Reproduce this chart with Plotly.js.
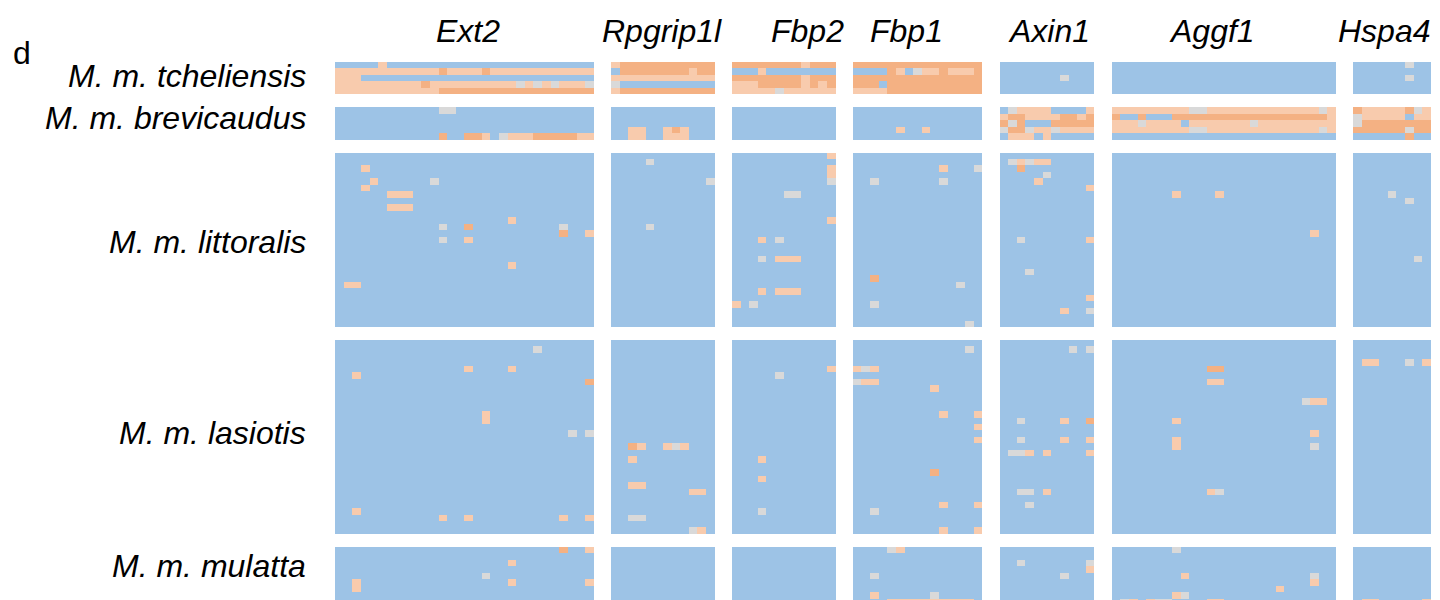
<!DOCTYPE html>
<html>
<head>
<meta charset="utf-8">
<script src="https://cdn.plot.ly/plotly-3.0.1.min.js"></script>
<style>html,body{margin:0;padding:0;background:#fff;}#chart{width:1440px;height:600px;}</style>
</head>
<body>
<div id="chart"></div>
<script>
// ---------- DATA ----------
// Genotype codes per site: 0 = reference (blue), 1 = heterozygous (light orange),
// 2 = homozygous alternative (orange), 3 = missing (grey).
// Each row = one individual; space-separated chunks = genes in order below.
// "-" = a gene block where every site of that individual is 0.
const genes = ['Ext2', 'Rpgrip1l', 'Fbp2', 'Fbp1', 'Axin1', 'Aggf1', 'Hspa4'];
const geneSites = [30, 12, 12, 15, 11, 26, 9];
const subspecies = ['M. m. tcheliensis', 'M. m. brevicaudus', 'M. m. littoralis', 'M. m. lasiotis', 'M. m. mulatta'];

const tcheliensis = [
  "000001000000000000000000000000 122222222222 222222221222 222222222222222 - - 000000300",
  "111111111111211112111111111111 022222222122 000100000000 000021031121112 - - -",
  "111000000000000000000000000000 111111111111 222222221222 222222222222222 00000003000 - 000000300",
  "111111111121111111111313131113 300000000000 111222221212 222022222222222 - - -",
  "111111111111222222222222222222 122222222222 111113111111 111122222222222 - - -"
];
const brevicaudus = [
  "000000000000330000000000000000 - - - 03111100001 11111111133111111111111131 211111231",
  "- - - - 12211112212 20020002222222222222222221 311111011",
  "- - - - 23200022222 11131111011111113111111111 322222222",
  "- 001100121000 - 000001001000000 32231131111 11111111133111111111111131 222222322",
  "000000000000200221031112222211 001100111000 - - 01110100000 - 000000200"
];
const littoralis = [
  "- - 000000000001 - - - -",
  "- 000030000000 - - 03131100000 - -",
  "000100000000000000000000000000 - 000000000001 000000000010003 00200000000 - -",
  "- - 000000000001 - 00000300000 - -",
  "000010000003000000000000000000 000000000003 000000000003 003000000030000 00001000000 - -",
  "000100000000000000000000000000 - - - 00000000001 - -",
  "000000111000000000000000000000 - 000000330000 - - 00000001000010000000000000 000030000",
  "- - - - - - 000000300",
  "000000111000000000000000000000 - - - - - -",
  "- - - - - - -",
  "000000000000000000001000000000 - 000000000001 - - - -",
  "000000000000300200000000003000 000030000000 - - - - -",
  "000000000000000000000000002001 - - - - 00000000000000000000000100 -",
  "000000000000300100000000000000 - 000103000000 - 00300000001 - -",
  "- - - - - - -",
  "- - - - - - -",
  "- - 000301110000 - - - 000000030",
  "000000000000000000001000000000 - - - - - -",
  "- - - - 00030000000 - -",
  "- - - 002000000000000 - - -",
  "011000000000000000000000000000 - - 000000000000300 - - -",
  "- - 000101110000 - - - -",
  "- - - - 00000000001 - -",
  "- - 103000000000 003000000000000 - - -",
  "- - - - 00000001003 - -",
  "- - - - - - -",
  "- - - 000000000000030 - - -"
];
const lasiotis = [
  "- - - - - - -",
  "000000000000000000000003000000 - - 000000000000030 00000000303 - -",
  "- - - - - - -",
  "- - - - - - 011000301",
  "000000000000000100001000000000 - 000000000001 131000000000000 - 00000000000220000000000000 -",
  "001000000000000000000000000000 - 000003000000 - - - -",
  "000000000000000000000000000002 - - 311000000000000 - 00000000000110000000000000 -",
  "- - - 000000000100000 - - -",
  "- - - - - - -",
  "- - - - - 00000000000000000000003110 -",
  "- - - - - - -",
  "000000000000000001000000000000 - - 000000000010001 - - -",
  "000000000000000001000000000000 - - - 00300001002 00000001000000000000000000 -",
  "- - - 000000000000001 - - -",
  "000000000000000000000000000303 - - - - 00000000000000000000000100 -",
  "- - - 000000000000001 00300001001 00000001000000000000000000 -",
  "- 002100131000 - - - 00000001000000000000000300 -",
  "- - - - 03310100001 - -",
  "- 001000000000 000100000000 - - - -",
  "- - - - - - -",
  "- - - 000000000200000 - - -",
  "- - 000100000000 - - - -",
  "- 001100000000 - - - - -",
  "- 000000000110 - - 00330100000 00000000000130000000000000 -",
  "- - - - - - -",
  "- - - 000000000010001 00030000000 - -",
  "001000000000000000000000000000 - 000300000000 003000000000000 - - -",
  "000000000000100100000000001001 003300000000 - - - - -",
  "- - - - - - -",
  "- 000000000310 - 000000000010001 - - -"
];
const mulatta = [
  "000000000000000000000000002001 - - 000031000000000 - 00000003000000000000000000 -",
  "- - - - - - -",
  "000000000000000000001000000000 - - - 00300000003 - -",
  "- - - - 00000000001 - -",
  "000000000000000003000000000000 - - 003000000000000 00000003000 00000000100000000000000300 -",
  "001000000000000000001000000001 - - - - 00000000000000000000000100 -",
  "001000000000000000000000000000 - - - - 00000000000000000001000000 -",
  "- - - 001000000300000 - 00000001300000000000000000 -",
  "- - - 000011111111110 - 03101330000110000000000000 011000001"
];
const groups = [tcheliensis, brevicaudus, littoralis, lasiotis, mulatta];

// ---------- LAYOUT CONFIG ----------
const COLORS = {ref: '#9DC3E6', het: '#F8CBAD', alt: '#F4B183', miss: '#D9D9D9'};
const GAP = 2;                       // blank cells between blocks
const PLOT = {l: 335, r: 9, t: 62, b: 0, W: 1440, H: 600};
const ROW_PX = 6.465;
const geneLabelPx = [468, 662, 807, 906, 1049, 1212, 1384];
const rowLabelPx = [76, 118, 242, 433, 566];

// ---------- BUILD MATRIX ----------
function parseRow(str) {
  const chunks = str.trim().split(/\s+/);
  const out = [];
  geneSites.forEach((n, g) => {
    if (g > 0) for (let k = 0; k < GAP; k++) out.push(null);
    const ch = chunks[g] || '-';
    for (let i = 0; i < n; i++) {
      if (ch === '-') out.push(0);
      else { const c = ch[i]; out.push(c === undefined ? null : Number(c)); }
    }
  });
  return out;
}
const nCols = geneSites.reduce((a, b) => a + b, 0) + GAP * (geneSites.length - 1);
const z = [];
groups.forEach((rows, gi) => {
  if (gi > 0) for (let k = 0; k < GAP; k++) z.push(new Array(nCols).fill(null));
  rows.forEach(r => z.push(parseRow(r)));
});

const plotH = PLOT.H - PLOT.t - PLOT.b;
const plotW = PLOT.W - PLOT.l - PLOT.r;
const visibleRows = plotH / ROW_PX;

const trace = {
  type: 'heatmap',
  z: z,
  zmin: -0.5, zmax: 3.5,
  colorscale: [
    [0, COLORS.ref], [0.25, COLORS.ref],
    [0.25, COLORS.het], [0.5, COLORS.het],
    [0.5, COLORS.alt], [0.75, COLORS.alt],
    [0.75, COLORS.miss], [1, COLORS.miss]
  ],
  showscale: false,
  hoverinfo: 'skip',
  xgap: 0, ygap: 0
};

const FONT = 'Liberation Sans, Arial, Helvetica, sans-serif';
const annotations = [];
genes.forEach((g, i) => {
  annotations.push({
    text: '<i>' + g + '</i>', xref: 'paper', yref: 'paper',
    x: (geneLabelPx[i] - PLOT.l) / plotW, y: 1 + (PLOT.t - 31.5) / plotH,
    xanchor: 'center', yanchor: 'middle', showarrow: false,
    font: {family: FONT, size: 32, color: '#000'}
  });
});
subspecies.forEach((s, i) => {
  annotations.push({
    text: '<i>' + s + '</i>', xref: 'paper', yref: 'paper',
    x: (308 - PLOT.l) / plotW, y: 1 - (rowLabelPx[i] - PLOT.t) / plotH,
    xanchor: 'right', yanchor: 'middle', showarrow: false,
    font: {family: FONT, size: 32, color: '#000'}
  });
});
annotations.push({
  text: 'd', xref: 'paper', yref: 'paper',
  x: (11 - PLOT.l) / plotW, y: 1 - (53 - PLOT.t) / plotH,
  xanchor: 'left', yanchor: 'middle', showarrow: false,
  font: {family: FONT, size: 32, color: '#000'}
});

const layout = {
  width: PLOT.W, height: PLOT.H,
  margin: {l: PLOT.l, r: PLOT.r, t: PLOT.t, b: PLOT.b, pad: 0},
  paper_bgcolor: '#fff', plot_bgcolor: '#fff',
  xaxis: {range: [-0.5, nCols - 0.5], visible: false, fixedrange: true},
  yaxis: {range: [visibleRows - 0.5, -0.5], visible: false, fixedrange: true},
  annotations: annotations,
  showlegend: false
};

Plotly.newPlot('chart', [trace], layout, {displayModeBar: false, staticPlot: true});
</script>
</body>
</html>
